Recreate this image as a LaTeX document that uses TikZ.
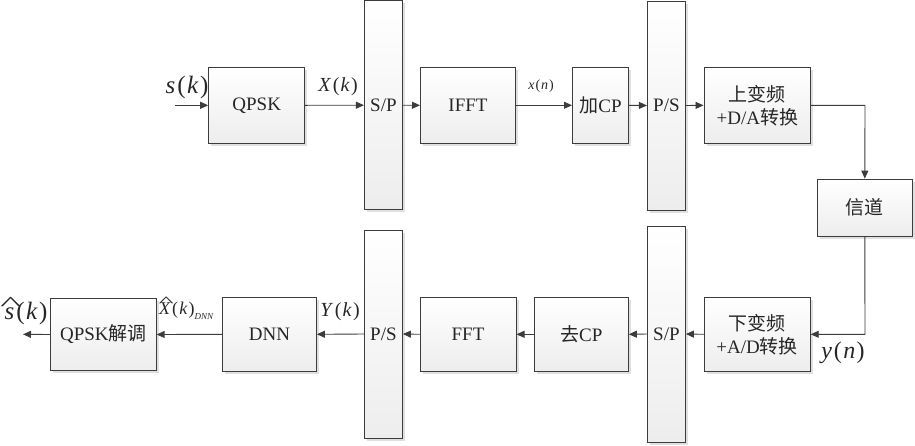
\documentclass[tikz,border=0pt]{standalone}
\usepackage{fontspec}
\usepackage{graphicx}
\setmainfont{Liberation Serif}
\newfontfamily\cjk{Noto Sans CJK SC}
\usetikzlibrary{arrows.meta,shadows}
\definecolor{edge}{HTML}{3C3C3C}
\definecolor{txt}{HTML}{262626}
\newcommand{\mvar}[1]{\textit{#1}\kern0.08em}
\newcommand{\mpar}[1]{(\kern0.06em#1\kern0.06em)}
\newcommand{\hatvar}[3]{\ooalign{\textit{#1}\cr\hidewidth\kern#2\raisebox{#3}{\scalebox{1.8}[0.8]{\^{}}}\hidewidth\cr}}
\tikzset{
  blk/.style={draw=edge, line width=1pt, inner sep=0pt, align=center,
    top color=white, bottom color=black!7, text=txt, font=\fontsize{19}{23}\selectfont,
    drop shadow={shadow xshift=2.5pt, shadow yshift=-2.5pt, fill=black!12, opacity=1}},
  conn/.style={draw=edge, line width=0.9pt, -{Triangle[length=8pt,width=7pt]}},
  lbl/.style={text=txt, inner sep=0pt},
}
\begin{document}
\begin{tikzpicture}[x=1pt,y=-1pt]
\useasboundingbox (0,0) rectangle (915,445);
% top row
\node[blk, minimum width=96, minimum height=76] (qpsk) at (256.7,105.3) {QPSK};
\node[blk, minimum width=38, minimum height=208.5] (sp1) at (383.4,105.2) {S/P};
\node[blk, minimum width=95, minimum height=76] (ifft) at (468,105.3) {IFFT};
\node[blk, minimum width=56, minimum height=76] (addcp) at (600.5,105.3) {{\cjk 加}CP};
\node[blk, minimum width=38, minimum height=209] (ps1) at (666.4,105.5) {P/S};
\node[blk, minimum width=106.5, minimum height=76] (up) at (757.3,105.3) {{\cjk 上变频}\\+D/A{\cjk 转换}};
% channel
\node[blk, minimum width=95, minimum height=57] (ch) at (864.8,207.6) {{\cjk 信道}};
% bottom row
\node[blk, minimum width=106, minimum height=74] (down) at (757.2,334.3) {{\cjk 下变频}\\+A/D{\cjk 转换}};
\node[blk, minimum width=38, minimum height=216] (sp2) at (666.4,334) {S/P};
\node[blk, minimum width=94, minimum height=74] (rmcp) at (581.3,334.3) {{\cjk 去}CP};
\node[blk, minimum width=96, minimum height=74] (fft) at (468,334.3) {FFT};
\node[blk, minimum width=38, minimum height=208] (ps2) at (383.4,334) {P/S};
\node[blk, minimum width=94, minimum height=74] (dnn) at (269.4,334.3) {DNN};
\node[blk, minimum width=105.5, minimum height=72] (demod) at (103.4,334.5) {QPSK{\cjk 解调}};
% free ends
\coordinate (in) at (175,105.3);
\coordinate (out) at (23,334.3);
\coordinate (c1) at (865,105.3);
\coordinate (c2) at (865,334.3);
% connectors
\draw[conn] (in) -- (qpsk.west);
\draw[conn] (qpsk.east) -- (sp1.west);
\draw[conn] (sp1.east) -- (ifft.west);
\draw[conn] (ifft.east) -- (addcp.west);
\draw[conn] (addcp.east) -- (ps1.west);
\draw[conn] (ps1.east) -- (up.west);
\draw[conn] (up.east) -- (c1) -- (ch.north);
\draw[conn] (ch.south) -- (c2) -- (down.east);
\draw[conn] (down.west) -- (sp2.east);
\draw[conn] (sp2.west) -- (rmcp.east);
\draw[conn] (rmcp.west) -- (fft.east);
\draw[conn] (fft.west) -- (ps2.east);
\draw[conn] (ps2.west) -- (dnn.east);
\draw[conn] (dnn.west) -- (demod.east);
\draw[conn] (demod.west) -- (out);
% labels
\node[lbl, font=\fontsize{25}{28}\selectfont] (ls) at (187,87) {\mvar{s}\mpar{\textit{k}}};
\node[lbl, font=\fontsize{20}{24}\selectfont] (lX) at (338,87) {\mvar{X}\mpar{\textit{k}}};
\node[lbl, font=\fontsize{14}{16}\selectfont] (lx) at (541,86) {\mvar{x}\mpar{\textit{n}}};
\node[lbl, font=\fontsize{25}{28}\selectfont] (lsh) at (26,313) {\hatvar{s}{0.1em}{0.34em}\kern0.08em\mpar{\textit{k}}};
\node[lbl, font=\fontsize{18}{22}\selectfont, anchor=west] (lXh) at (159,311) {\hatvar{X}{0.14em}{0.48em}\kern0.08em\mpar{\textit{k}}\raisebox{-0.55ex}{\fontsize{9}{10}\selectfont\textit{DNN}}};
\node[lbl, font=\fontsize{20}{24}\selectfont] (lY) at (340,312) {\mvar{Y}\mpar{\textit{k}}};
\node[lbl, font=\fontsize{24}{28}\selectfont] (ly) at (843,353) {\mvar{y}\mpar{\textit{n}}};
\end{tikzpicture}
\end{document}
